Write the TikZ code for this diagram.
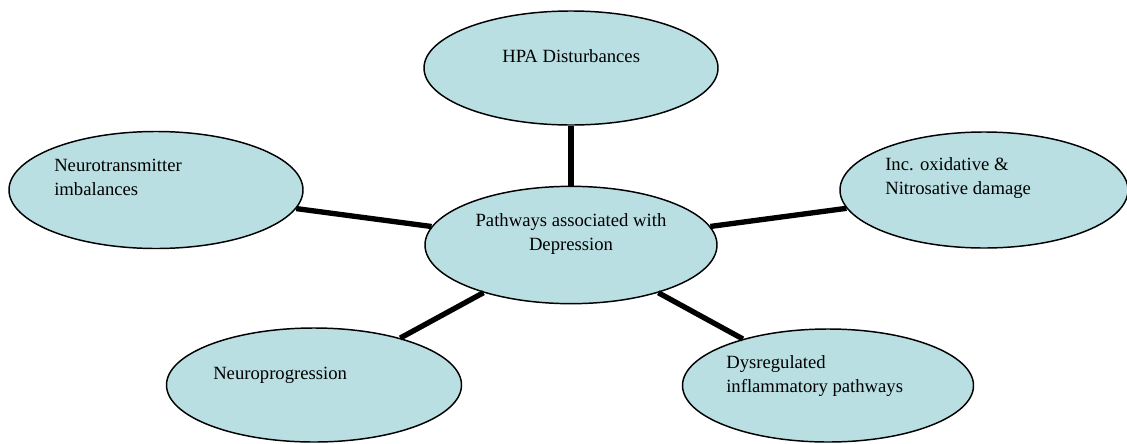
\documentclass[tikz,border=0pt]{standalone}
\usepackage{fontspec}
\setmainfont{Liberation Serif}
\usetikzlibrary{shapes.geometric, positioning}
\definecolor{bubblefill}{RGB}{185, 223, 227}

\begin{document}
\begin{tikzpicture}[x=0.75pt, y=-0.75pt,
    bubble/.style={ellipse, draw, line width=1.1pt, fill=bubblefill, inner sep=0pt},
    txt/.style={inner sep=0pt, align=left, font=\fontsize{14}{17.5}\selectfont},
    link/.style={line width=4pt}]

    \useasboundingbox (0,0) rectangle (1127,443);

    % Central
    \node[bubble, minimum width=219pt, minimum height=88pt] (core) at (571, 245) {};

    % Outer bubbles
    \node[bubble, minimum width=220.5pt, minimum height=85.5pt] (hpa) at (571, 68) {};
    \node[bubble, minimum width=220.5pt, minimum height=87.75pt] (neuro) at (156, 190) {};
    \node[bubble, minimum width=216pt, minimum height=87pt] (oxid) at (984, 190) {};
    \node[bubble, minimum width=221.25pt, minimum height=85.5pt] (prog) at (314, 385) {};
    \node[bubble, minimum width=218.25pt, minimum height=84.75pt] (infl) at (828, 385.5) {};

    % Links
    \draw[link] (core) -- (hpa);
    \draw[link] (core) -- (neuro);
    \draw[link] (core) -- (oxid);
    \draw[link] (core) -- (prog);
    \draw[link] (core) -- (infl);

    % Texts (base = last line)
    \node[txt, align=center, anchor=base] (core-t) at (571, 250) {Pathways associated with\\Depression};
    \node[txt, anchor=base west] (hpa-t) at (502, 62) {HPA Disturbances};
    \node[txt, anchor=base west] (neuro-t) at (54, 195) {Neurotransmitter\\imbalances};
    \node[txt, anchor=base west] (oxid-t) at (885, 194) {Inc. oxidative \&\\Nitrosative damage};
    \node[txt, anchor=base west] (prog-t) at (213, 379) {Neuroprogression};
    \node[txt, anchor=base west] (infl-t) at (726, 392) {Dysregulated\\inflammatory pathways};
\end{tikzpicture}
\end{document}
